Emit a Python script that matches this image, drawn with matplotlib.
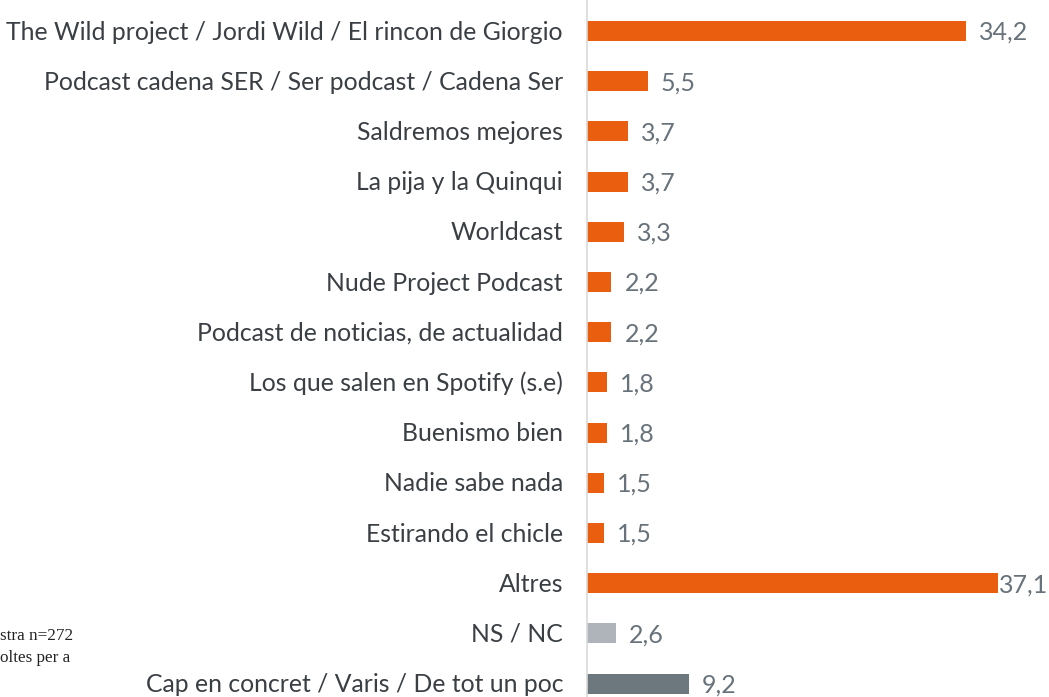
import matplotlib
matplotlib.use("Agg")
import matplotlib.pyplot as plt

categories = [
    "The Wild project / Jordi Wild / El rincon de Giorgio",
    "Podcast cadena SER / Ser podcast / Cadena Ser",
    "Saldremos mejores",
    "La pija y la Quinqui",
    "Worldcast",
    "Nude Project Podcast",
    "Podcast de noticias, de actualidad",
    "Los que salen en Spotify (s.e)",
    "Buenismo bien",
    "Nadie sabe nada",
    "Estirando el chicle",
    "Altres",
    "NS / NC",
    "Cap en concret / Varis / De tot un poc",
]
values = [34.2, 5.5, 3.7, 3.7, 3.3, 2.2, 2.2, 1.8, 1.8, 1.5, 1.5, 37.1, 2.6, 9.2]
value_labels = ["34,2", "5,5", "3,7", "3,7", "3,3", "2,2", "2,2", "1,8", "1,8", "1,5", "1,5", "37,1", "2,6", "9,2"]
notes = ["stra n=272", "oltes per a"]

ORANGE = "#E95E0F"
LIGHT = "#AEB4B9"
DARK = "#6C777E"
colors = [ORANGE] * 12 + [LIGHT, DARK]

W, H = 1049, 697
fig = plt.figure(figsize=(W / 100, H / 100), dpi=100)
ax = fig.add_axes([587 / W, 0, 1 - 587 / W, 1])

px_per_unit = (966 - 587) / 34.2
row = 50.2
y0 = 31
ax.set_xlim(0, (W - 587) / px_per_unit)
ax.set_ylim((H - y0) / row, -y0 / row)

pos = list(range(len(categories)))
ax.barh(pos, values, height=20 / row, color=colors, zorder=2)

for i, (v, lab) in enumerate(zip(values, value_labels)):
    off = 0.05 if categories[i] == "Altres" else 13 / px_per_unit
    ax.text(v + off, i + 0.03, lab, va="center", ha="left", fontsize=18,
            family=["Lato", "DejaVu Sans"], color="#68727A")

for i, c in enumerate(categories):
    ax.text(-24 / px_per_unit, i + 0.02, c, va="center", ha="right", fontsize=17.8,
            family=["Lato", "DejaVu Sans"], color="#3A3F44", clip_on=False)

for s in ["top", "right", "bottom"]:
    ax.spines[s].set_visible(False)
ax.spines["left"].set_color("#D9D9D9")
ax.spines["left"].set_linewidth(1.2)
ax.set_xticks([])
ax.set_yticks([])
ax.patch.set_alpha(0)

fig.text(0, 1 - 636 / H, notes[0], ha="left", va="center",
         fontsize=12.3, family="Liberation Serif", color="#222222")
fig.text(0, 1 - 658 / H, notes[1], ha="left", va="center",
         fontsize=12.3, family="Liberation Serif", color="#222222")

fig.savefig("out.png", dpi=100)
